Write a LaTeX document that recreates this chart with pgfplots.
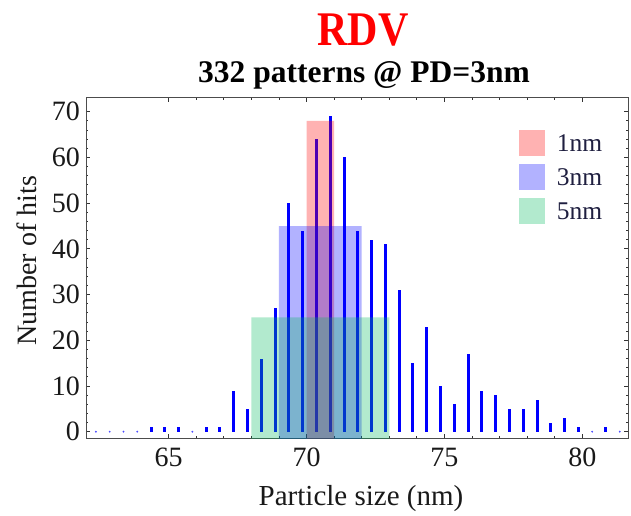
\documentclass[border=0pt]{standalone}
\usepackage{pgfplots}
\pgfplotsset{compat=1.18}
\usepackage{graphicx}
\usepackage{fontspec}
\setmainfont{Liberation Serif}
\definecolor{rectred}{rgb}{1,0,0}
\definecolor{rectblue}{rgb}{0,0,1}
\definecolor{rectgreen}{rgb}{0,0.72,0.36}
\definecolor{navytext}{rgb}{0.12,0.12,0.25}
\definecolor{framegray}{rgb}{0.3,0.3,0.3}
\newcommand{\bigfont}{\fontsize{28bp}{32bp}\selectfont}
\begin{document}
\begin{tikzpicture}
\begin{axis}[
  scale only axis,
  width=542.3bp, height=340.7bp,
  xmin=62.0, xmax=81.67,
  ymin=-1.38, ymax=73.16,
  xtick={65,70,75,80},
  ytick={0,10,20,30,40,50,60,70},
  minor x tick num=4,
  minor y tick num=4,
  tick pos=both,
  tick align=inside,
  major tick length=4.5bp,
  minor tick length=2.5bp,
  axis line style={framegray, line width=0.9bp},
  every tick/.style={black!80, line width=0.8bp},
  /pgf/number format/assume math mode=true,
  ticklabel style={font=\bigfont, text=black!90},
  xticklabel style={inner sep=0pt, anchor=north, yshift=-10bp},
  yticklabel style={inner sep=0pt, anchor=east, xshift=-6bp},
  clip=true,
  legend style={at={(0.7985,0.904)}, anchor=north west, draw=none, fill=none,
    inner sep=0pt, row sep=8bp, column sep=11.7bp,
    nodes={inner sep=0pt, text=navytext},
    font=\fontsize{25.5bp}{28bp}\selectfont},
  legend cell align=left,
  legend image code/.code={\fill[#1] (0bp,-12bp) rectangle (26bp,14bp);},
]
% bars
\addplot[ycomb, blue, line width=3bp, forget plot] table[x=x, y=y] {
x y
64.36 1
64.86 1
65.36 1
66.36 1
66.86 1
67.36 9
67.86 5
68.36 16
68.86 27
69.36 50
69.86 44
70.36 64
70.86 69
71.36 60
71.86 44
72.36 42
72.86 41
73.36 31
73.86 15
74.36 23
74.86 10
75.36 6
75.86 17
76.36 9
76.86 8
77.36 5
77.86 5
78.36 7
78.86 2
79.36 3
79.86 1
80.86 1
};
% zero counts
\addplot[only marks, mark=*, mark size=0.7bp, blue!70, forget plot] table[x=x, y=y] {
x y
62.36 0
62.86 0
63.36 0
63.86 0
65.86 0
80.36 0
81.36 0
};
% windows
\addplot[fill=rectred, fill opacity=0.3, draw=none] coordinates {(70,-5) (70,68) (71,68) (71,-5) (70,-5)};
\addlegendentry{1nm}
\addplot[fill=rectblue, fill opacity=0.3, draw=none] coordinates {(69,-5) (69,45) (72,45) (72,-5) (69,-5)};
\addlegendentry{3nm}
\addplot[fill=rectgreen, fill opacity=0.3, draw=none] coordinates {(68,-5) (68,25) (73,25) (73,-5) (68,-5)};
\addlegendentry{5nm}
\end{axis}
% titles and labels
\node[anchor=base, text=red, font=\bfseries\fontsize{42bp}{46bp}\selectfont]
  at ([xshift=277bp, yshift=51.3bp]current axis.north west) {\scalebox{1}[1.15]{RDV}};
\node[anchor=base, text=black, font=\bfseries\fontsize{31.5bp}{34bp}\selectfont]
  at ([xshift=278bp, yshift=14.8bp]current axis.north west) {332 patterns @ PD=3nm};
\node[anchor=base, text=black!90, font=\fontsize{29bp}{32bp}\selectfont]
  at ([xshift=275bp, yshift=-67bp]current axis.south west) {Particle size (nm)};
\node[anchor=base, rotate=90, text=black!90, font=\bigfont]
  at ([xshift=-49.3bp, yshift=177.2bp]current axis.south west) {Number of hits};
\pgfresetboundingbox
\useasboundingbox ([xshift=-86bp, yshift=-78bp]current axis.south west) rectangle ([xshift=2.7bp, yshift=97.3bp]current axis.north east);
\end{tikzpicture}
\end{document}
